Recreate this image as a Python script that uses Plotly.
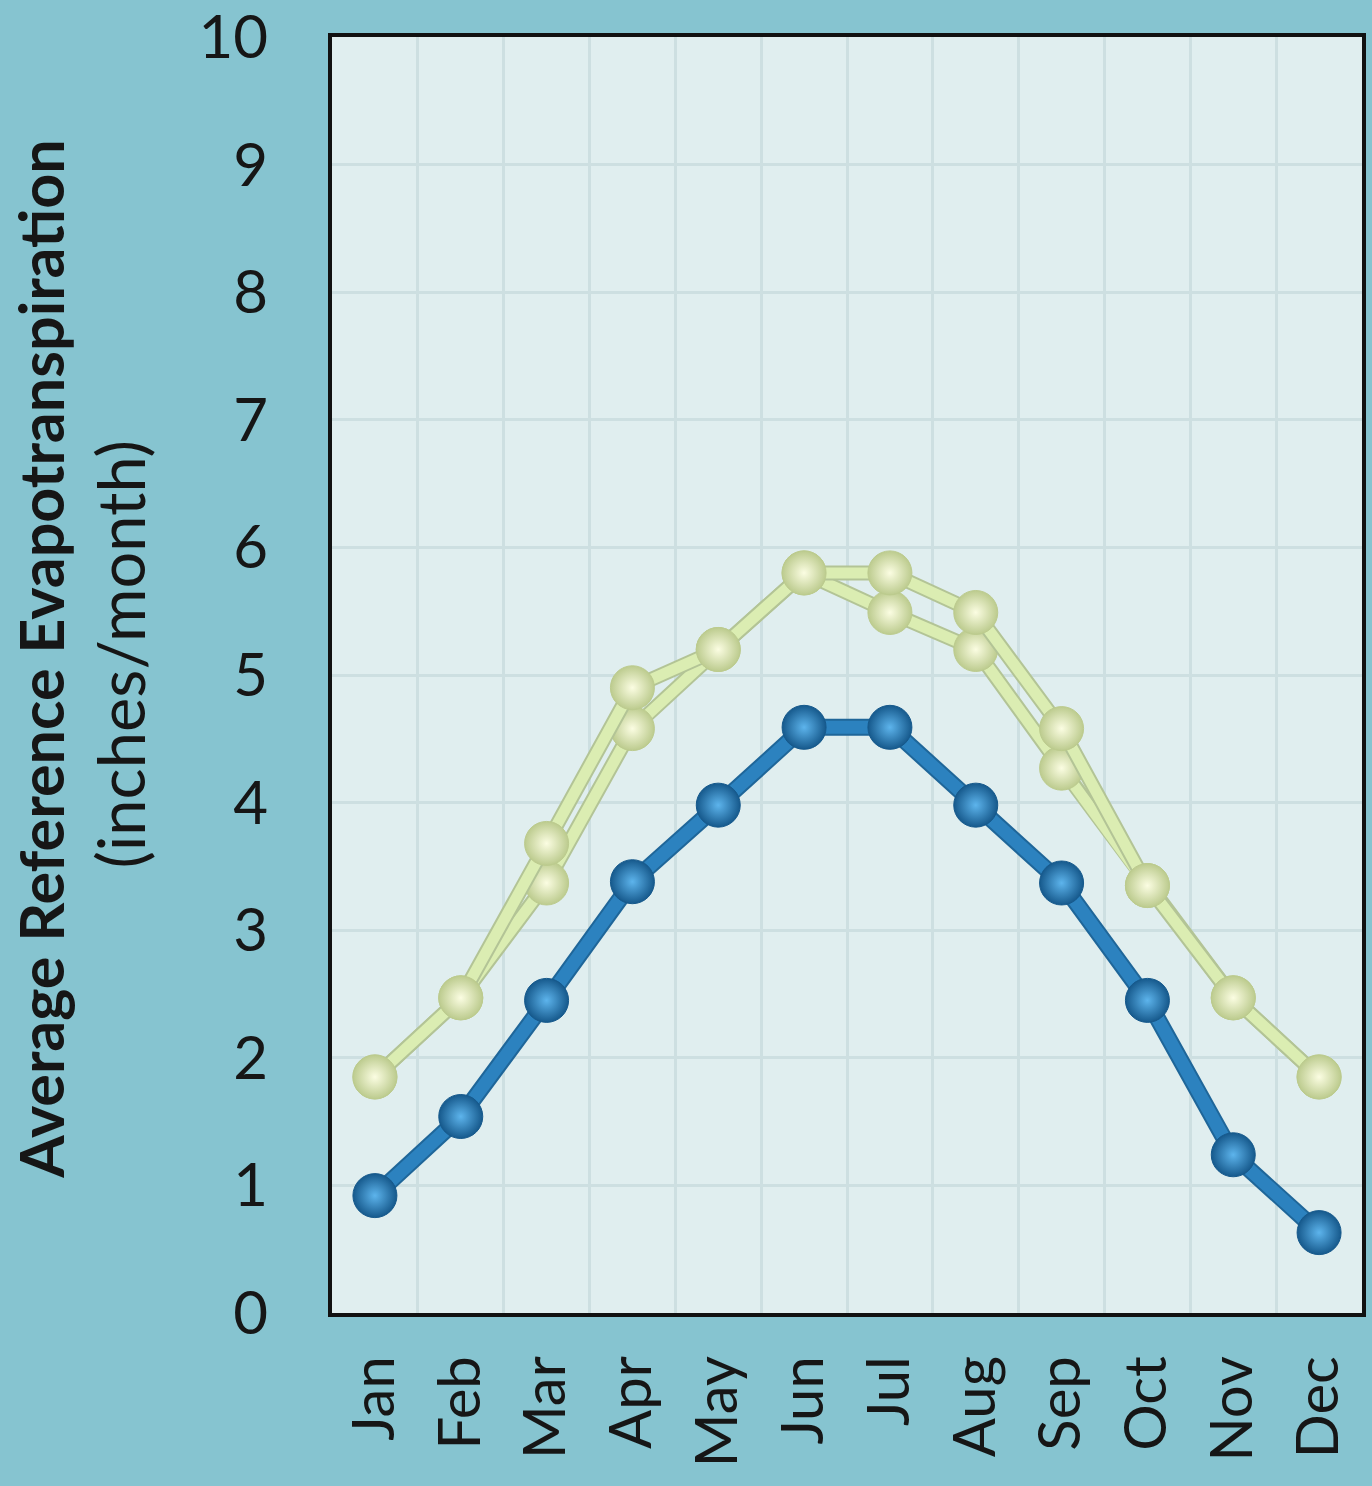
import plotly.graph_objects as go

# Monthly average reference evapotranspiration (inches/month)
months = ["Jan", "Feb", "Mar", "Apr", "May", "Jun",
          "Jul", "Aug", "Sep", "Oct", "Nov", "Dec"]
eto_low = [0.92, 1.54, 2.45, 3.38, 3.98, 4.59, 4.59, 3.98, 3.37, 2.45, 1.24, 0.63]
eto_high = [1.85, 2.47, 3.68, 4.90, 5.20, 5.80, 5.80, 5.49, 4.58, 3.35, 2.47, 1.85]
eto_mid = [1.85, 2.47, 3.37, 4.58, 5.20, 5.80, 5.49, 5.20, 4.27, 3.35, 2.47, 1.85]
y_ticks = [0, 1, 2, 3, 4, 5, 6, 7, 8, 9, 10]

PAPER = "#86c4d0"
PLOT_BG = "#e0eeef"
GRID = "#cddfe1"
TEXT = "#161616"
FONT = "Lato"

fig = go.Figure()


def sphere_series(values, name, line_color, line_width, shade_color, edge_color, center_color):
    # darker underlay gives the line a soft edge
    fig.add_trace(go.Scatter(
        x=months, y=values, mode="lines", name=name + " edge",
        line=dict(color=shade_color, width=line_width + 4), hoverinfo="skip",
        showlegend=False,
    ))
    fig.add_trace(go.Scatter(
        x=months, y=values, mode="lines+markers", name=name,
        line=dict(color=line_color, width=line_width),
        marker=dict(
            size=44, color=edge_color,
            gradient=dict(type="radial", color=center_color),
            line=dict(color=edge_color, width=1),
        ),
        showlegend=False,
    ))


sphere_series(eto_mid, "ETo mid", "#dbedb2", 11, "#b3c496", "#bccb8e", "#fbfde2")
sphere_series(eto_high, "ETo high", "#dbedb2", 11, "#b3c496", "#bccb8e", "#fbfde2")
sphere_series(eto_low, "ETo low", "#2c82bf", 13, "#1f6699", "#16598c", "#5db4ec")

fig.add_annotation(
    text="<b>Average Reference Evapotranspiration</b>",
    xref="paper", yref="paper", x=-0.2825, y=0.512,
    xanchor="center", yanchor="middle", textangle=-90, showarrow=False,
    font=dict(family=FONT, size=61, color=TEXT),
)
fig.add_annotation(
    text="(inches/month)",
    xref="paper", yref="paper", x=-0.2058, y=0.516,
    xanchor="center", yanchor="middle", textangle=-90, showarrow=False,
    font=dict(family=FONT, size=65, color=TEXT),
)

fig.update_layout(
    width=1372, height=1486,
    margin=dict(l=332, r=10, t=37, b=173),
    paper_bgcolor=PAPER,
    plot_bgcolor=PLOT_BG,
    font=dict(family=FONT, color=TEXT),
    showlegend=False,
)

fig.update_xaxes(
    type="category", categoryorder="array", categoryarray=months,
    range=[-0.5, 11.5], tickson="boundaries", automargin=False,
    showgrid=True, gridcolor=GRID, gridwidth=3,
    showline=True, linecolor="#111111", linewidth=4, mirror=True,
    ticks="outside", ticklen=0, tickangle=-90,
    ticklabelstandoff=16, ticklabeloverflow="allow",
    tickfont=dict(family=FONT, size=58, color=TEXT),
    zeroline=False,
)
fig.update_yaxes(
    range=[0, 10], tickvals=y_ticks, automargin=False,
    showgrid=True, gridcolor=GRID, gridwidth=3,
    showline=True, linecolor="#111111", linewidth=4, mirror=True,
    ticks="outside", ticklen=0,
    ticklabelstandoff=48, ticklabeloverflow="allow",
    tickfont=dict(family=FONT, size=60, color=TEXT),
    zeroline=False,
)

fig.write_html("out.html")
